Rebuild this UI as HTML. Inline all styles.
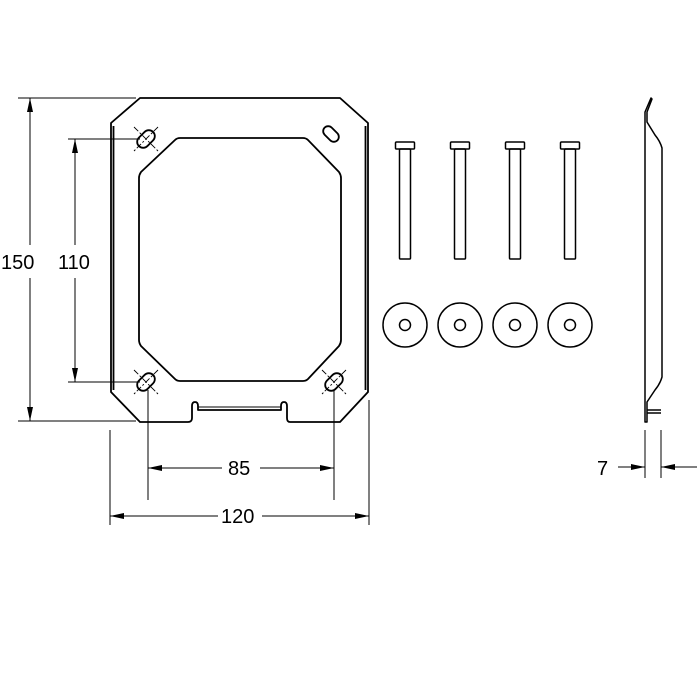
<!DOCTYPE html>
<html><head><style>body{margin:0;background:#fff}svg{display:block}</style></head><body>
<svg width="700" height="700" viewBox="0 0 700 700" xmlns="http://www.w3.org/2000/svg" font-family="Liberation Sans, sans-serif">
<rect width="700" height="700" fill="#fff"/>
<g fill="none" stroke="#000" stroke-width="1.8" stroke-linejoin="round">
<path d="M140,98 L340,98 L368,123 L368,392 L340,422 L290,422 Q287,422 287,418 L287,406 Q287,402 284,402 Q281,402 281,406 L281,410 L198,410 L198,406 Q198,402 195,402 Q192,402 192,406 L192,418 Q192,422 188,422 L140,422 L111,392 L111,123 Z"/>
<line x1="113.5" y1="126" x2="113.5" y2="390"/>
<line x1="365.5" y1="126" x2="365.5" y2="390"/>
<line x1="198" y1="407" x2="281" y2="407" stroke-width="1"/>
<path d="M180,138 L303,138 Q306,138 308,140 L339,172 Q341,175 341,178 L341,340 Q341,343 339,346 L308,379 Q306,381 303,381 L180,381 Q177,381 175,379 L141,346 Q139,343 139,340 L139,178 Q139,175 141,172 L175,140 Q177,138 180,138 Z"/>
<g transform="translate(146,139) rotate(-45)"><rect x="-10" y="-6" width="20" height="12" rx="6"/></g>
<g transform="translate(146,382) rotate(-45)"><rect x="-10" y="-6" width="20" height="12" rx="6"/></g>
<g transform="translate(334,382) rotate(-45)"><rect x="-10" y="-6" width="20" height="12" rx="6"/></g>
<g transform="translate(331,134) rotate(45)"><rect x="-9" y="-5" width="18" height="10" rx="5"/></g>
</g>
<g stroke="#000" stroke-width="0.9" stroke-dasharray="6,2,2,2">
<line x1="134" y1="127" x2="158" y2="151"/><line x1="158" y1="127" x2="134" y2="151"/>
<line x1="134" y1="370" x2="158" y2="394"/><line x1="158" y1="370" x2="134" y2="394"/>
<line x1="322" y1="370" x2="346" y2="394"/><line x1="346" y1="370" x2="322" y2="394"/>
</g>
<g stroke="#000" stroke-width="1" fill="none">
<line x1="18" y1="98" x2="136" y2="98"/><line x1="18" y1="421" x2="136" y2="421"/>
<line x1="30" y1="98" x2="30" y2="245"/><line x1="30" y1="278" x2="30" y2="421"/>
<line x1="68" y1="139" x2="140" y2="139"/><line x1="68" y1="382" x2="140" y2="382"/>
<line x1="75" y1="139" x2="75" y2="245"/><line x1="75" y1="278" x2="75" y2="382"/>
<line x1="148" y1="390" x2="148" y2="500"/><line x1="334" y1="390" x2="334" y2="500"/>
<line x1="148" y1="468" x2="222" y2="468"/><line x1="260" y1="468" x2="334" y2="468"/>
<line x1="110" y1="430" x2="110" y2="525"/><line x1="369" y1="400" x2="369" y2="525"/>
<line x1="110" y1="516" x2="218" y2="516"/><line x1="262" y1="516" x2="369" y2="516"/>
<line x1="645" y1="430" x2="645" y2="478"/><line x1="661" y1="430" x2="661" y2="478"/>
<line x1="618" y1="467" x2="645" y2="467"/><line x1="661" y1="467" x2="697" y2="467"/>
</g>
<g fill="#000">
<path d="M30,98 l-3,14 h6z"/><path d="M30,421 l-3,-14 h6z"/>
<path d="M75,139 l-3,14 h6z"/><path d="M75,382 l-3,-14 h6z"/>
<path d="M148,468 l14,-3 v6z"/><path d="M334,468 l-14,-3 v6z"/>
<path d="M110,516 l14,-3 v6z"/><path d="M369,516 l-14,-3 v6z"/>
<path d="M645,467 l-14,-3 v6z"/><path d="M661,467 l14,-3 v6z"/>
</g>
<g font-size="20" fill="#000">
<text x="1" y="269">150</text>
<text x="58" y="269">110</text>
<text x="228" y="475">85</text>
<text x="221" y="523">120</text>
<text x="597" y="475">7</text>
</g>
<g fill="none" stroke="#000" stroke-width="1.5">
<g id="b"><rect x="395.5" y="142" width="19" height="7" rx="1"/><rect x="399.5" y="149" width="11" height="110" rx="1"/></g>
<use href="#b" x="55"/><use href="#b" x="110"/><use href="#b" x="165"/>
<circle cx="405" cy="325" r="22"/><circle cx="405" cy="325" r="5.5"/>
<circle cx="460" cy="325" r="22"/><circle cx="460" cy="325" r="5.5"/>
<circle cx="515" cy="325" r="22"/><circle cx="515" cy="325" r="5.5"/>
<circle cx="570" cy="325" r="22"/><circle cx="570" cy="325" r="5.5"/>
</g>
<g fill="none" stroke="#000" stroke-width="1.5" stroke-linejoin="round">
<path d="M645,422 L645,112 L651,98 L652,99 L647,112 L647,122 L655,135 Q660,141 662,148 L662,377 Q660,384 655,390 L647,402 L647,422 Z"/>
<line x1="647" y1="410" x2="661" y2="410"/><line x1="647" y1="413" x2="661" y2="413"/>
</g>
</svg>
</body></html>
